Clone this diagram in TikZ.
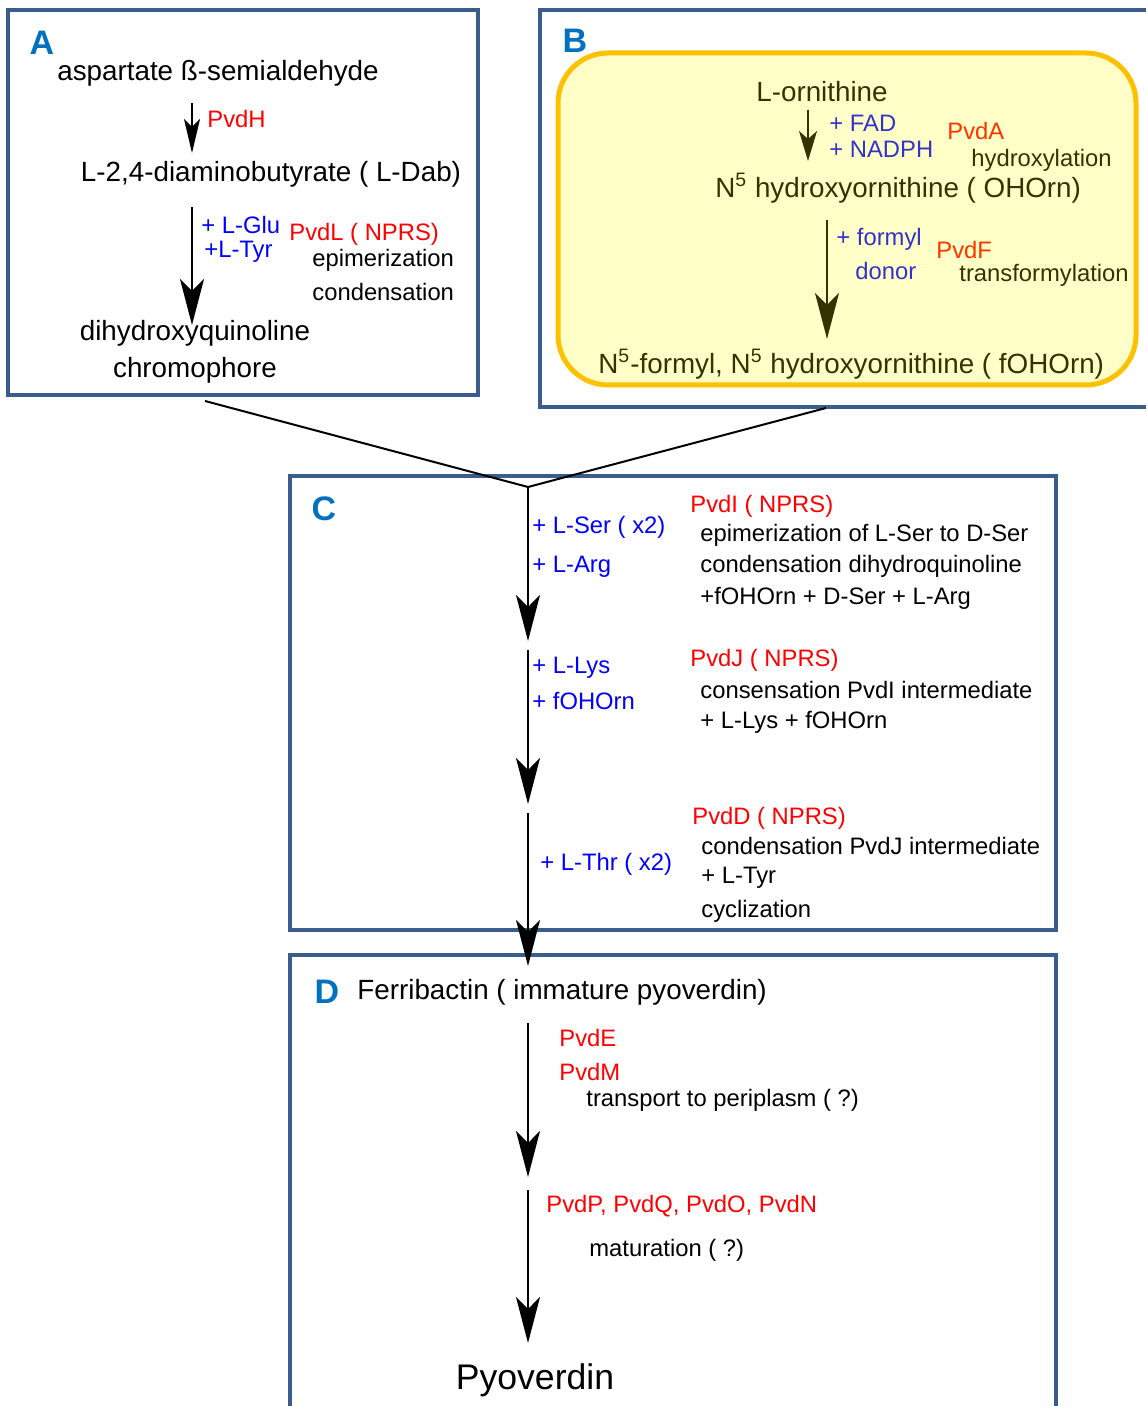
\documentclass[tikz,border=0pt]{standalone}
\usepackage{fontspec}
\setmainfont{Liberation Sans}
\usepackage{xcolor}
\definecolor{panelblue}{RGB}{59,93,140}
\definecolor{letterblue}{RGB}{0,112,192}
\definecolor{addblue}{RGB}{0,0,255}
\definecolor{enzred}{RGB}{255,0,0}
\definecolor{ornolive}{RGB}{51,51,0}
\definecolor{ornblue}{RGB}{51,51,204}
\definecolor{ornred}{RGB}{255,51,0}
\definecolor{ornfill}{RGB}{255,255,200}
\definecolor{ornedge}{RGB}{255,192,0}
\usepackage{tikz}
\usetikzlibrary{arrows.meta}

\begin{document}
\begin{tikzpicture}[x=0.5pt,y=-0.5pt,
    panel/.style={draw=panelblue,line width=2pt},
    big/.style={font=\fontsize{13.9}{16}\selectfont,inner sep=0pt},
    small/.style={font=\fontsize{11.9}{14}\selectfont,inner sep=0pt,anchor=west},
    letter/.style={font=\fontsize{17}{20}\selectfont\bfseries,text=letterblue,inner sep=0pt},
    flow/.style={line width=1pt,-{Stealth[length=23pt,width=12pt,inset=6pt]}},
    short flow/.style={line width=1pt,-{Stealth[length=17pt,width=8pt,inset=4pt]}}]
    \useasboundingbox (0,0) rectangle (1146,1406);

    % panels
    \draw[panel] (8,10) rectangle (478,395);
    \draw[panel] (1146,10) -- (540,10) -- (540,407) -- (1146,407);
    \draw[draw=ornedge,fill=ornfill,line width=2.5pt,rounded corners=25pt] (558,53) rectangle (1136,385);
    \draw[panel] (290,476) rectangle (1056,930);
    \draw[panel] (290,1406) -- (290,955) -- (1056,955) -- (1056,1406);

    % A
    \node[letter] (la) at (42,43) {A};
    \node[big] (asp) at (218,73) {aspartate ß-semialdehyde};
    \node[small,text=enzred] (pvdh) at (207,119) {PvdH};
    \node[big] (dab) at (271,174) {L-2,4-diaminobutyrate ( L-Dab)};
    \node[small,text=addblue] (glu) at (201,225) {+ L-Glu};
    \node[small,text=addblue] (tyra) at (204,252) {+L-Tyr};
    \node[small,text=enzred] (pvdl) at (289,234) {PvdL ( NPRS)};
    \node[small] (epia) at (312,260) {epimerization};
    \node[small] (conda) at (312,292) {condensation};
    \node[big] (dhq) at (195,333) {dihydroxyquinoline};
    \node[big] (chrom) at (195,370) {chromophore};
    \coordinate (a1s) at (192,103);
    \coordinate (a1e) at (192,153);
    \coordinate (a2s) at (192,207);
    \coordinate (a2e) at (192,325);
    \draw[short flow] (a1s) -- (a1e);
    \draw[flow] (a2s) -- (a2e);

    % B
    \node[letter] (lb) at (575,41) {B};
    \node[big,text=ornolive] (orn) at (822,92) {L-ornithine};
    \node[small,text=ornblue] (fad) at (829,123) {+ FAD};
    \node[small,text=ornblue] (nadph) at (829,149) {+ NADPH};
    \node[small,text=ornred] (pvda) at (947,131) {PvdA};
    \node[small,text=ornolive] (hydrox) at (971,160) {hydroxylation};
    \node[big,text=ornolive,anchor=west] (ohorn) at (715,188) {N\textsuperscript{5} hydroxyornithine ( OHOrn)};
    \node[small,text=ornblue] (formyl) at (836,239) {+ formyl};
    \node[small,text=ornblue] (donor) at (855,271) {donor};
    \node[small,text=ornred] (pvdf) at (936,250) {PvdF};
    \node[small,text=ornolive] (transf) at (959,275) {transformylation};
    \node[big,text=ornolive,anchor=west] (fohorn) at (598,364) {N\textsuperscript{5}-formyl, N\textsuperscript{5} hydroxyornithine ( fOHOrn)};
    \coordinate (b1s) at (808,110);
    \coordinate (b1e) at (808,161);
    \coordinate (b2s) at (827,220);
    \coordinate (b2e) at (827,339);
    \draw[short flow,draw=ornolive,fill=ornolive,-{Stealth[length=15pt,width=9pt,inset=4pt]}] (b1s) -- (b1e);
    \draw[flow,draw=ornolive,fill=ornolive] (b2s) -- (b2e);

    % merge
    \coordinate (fromA) at (205,401);
    \coordinate (fromB) at (826,408);
    \coordinate (join) at (528,487);
    \draw[line width=1pt] (fromA) -- (join) -- (fromB);

    % C
    \node[letter] (lc) at (324,509) {C};
    \node[small,text=addblue] (ser) at (532,527) {+ L-Ser ( x2)};
    \node[small,text=addblue] (arg) at (532,567) {+ L-Arg};
    \node[small,text=enzred] (pvdi) at (690,506) {PvdI ( NPRS)};
    \node[small] (ci1) at (700,535) {epimerization of L-Ser to D-Ser};
    \node[small] (ci2) at (700,566) {condensation dihydroquinoline};
    \node[small] (ci3) at (700,598) {+fOHOrn + D-Ser + L-Arg};
    \node[small,text=addblue] (lys) at (532,668) {+ L-Lys};
    \node[small,text=addblue] (fo) at (532,701) {+ fOHOrn};
    \node[small,text=enzred] (pvdj) at (690,660) {PvdJ ( NPRS)};
    \node[small] (cj1) at (700,690) {consensation PvdI intermediate};
    \node[small] (cj2) at (700,722) {+ L-Lys + fOHOrn};
    \node[small,text=addblue] (thr) at (540,864) {+ L-Thr ( x2)};
    \node[small,text=enzred] (pvdd) at (692,818) {PvdD ( NPRS)};
    \node[small] (cd1) at (701,846) {condensation PvdJ intermediate};
    \node[small] (cd2) at (701,878) {+ L-Tyr};
    \node[small] (cd3) at (701,911) {cyclization};
    \coordinate (c1e) at (528,641);
    \coordinate (c2s) at (528,650);
    \coordinate (c2e) at (528,804);
    \coordinate (c3s) at (528,813);
    \coordinate (c3e) at (528,966);
    \draw[flow] (join) -- (c1e);
    \draw[flow] (c2s) -- (c2e);
    \draw[flow] (c3s) -- (c3e);

    % D
    \node[letter] (ld) at (327,992) {D};
    \node[big,anchor=west] (ferri) at (357,992) {Ferribactin ( immature pyoverdin)};
    \node[small,text=enzred] (pvde) at (559,1038) {PvdE};
    \node[small,text=enzred] (pvdm) at (559,1072) {PvdM};
    \node[small] (transp) at (586,1100) {transport to periplasm ( ?)};
    \node[small,text=enzred] (pvdp) at (546,1206) {PvdP, PvdQ, PvdO, PvdN};
    \node[small] (mat) at (589,1250) {maturation ( ?)};
    \node[big,font=\fontsize{17.8}{20}\selectfont] (pyo) at (535,1380) {Pyoverdin};
    \coordinate (d1s) at (528,1023);
    \coordinate (d1e) at (528,1177);
    \coordinate (d2s) at (528,1190);
    \coordinate (d2e) at (528,1343);
    \draw[flow] (d1s) -- (d1e);
    \draw[flow] (d2s) -- (d2e);
\end{tikzpicture}
\end{document}
